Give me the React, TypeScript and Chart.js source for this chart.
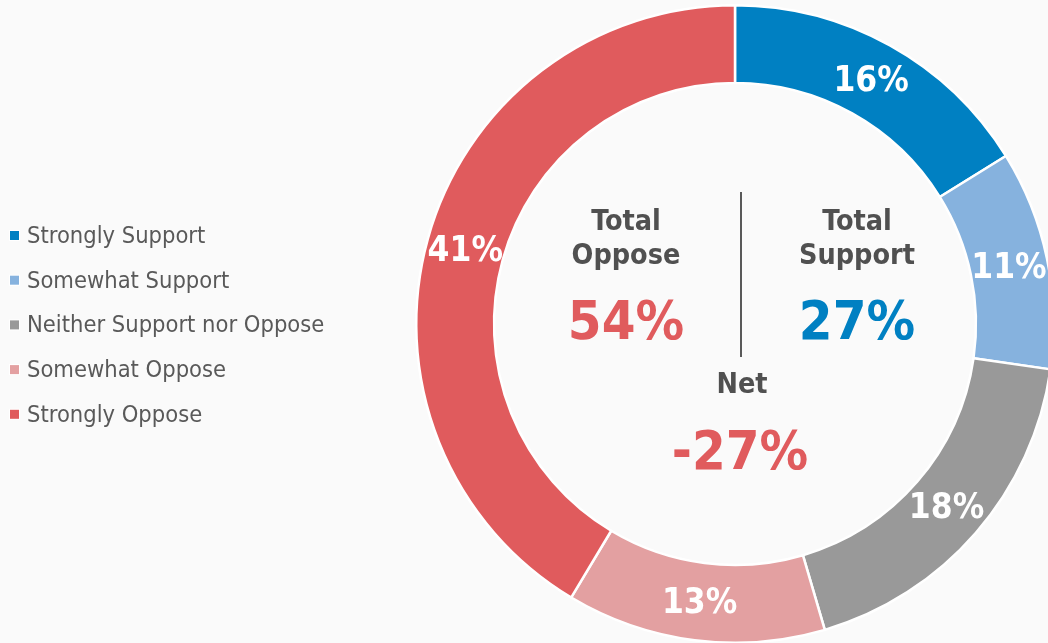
import React, { useEffect, useRef } from "react";
import { Chart, registerables } from "chart.js";

Chart.register(...registerables);

const categories = [
  "Strongly Support",
  "Somewhat Support",
  "Neither Support nor Oppose",
  "Somewhat Oppose",
  "Strongly Oppose",
];
const values = [16, 11, 18, 13, 41];
const colors = ["#0080c2", "#86b2de", "#999999", "#e3a0a1", "#e05b5d"];
const supportIdx = [0, 1];
const opposeIdx = [3, 4];

const FONT = '"DejaVu Sans Condensed", "DejaVu Sans", sans-serif';
const BG = "#fafafa";

export default function App() {
  const ref = useRef<HTMLCanvasElement | null>(null);

  useEffect(() => {
    document.body.style.background = BG;
    const canvas = ref.current!;
    const totalSupport = supportIdx.reduce((s, i) => s + values[i], 0);
    const totalOppose = opposeIdx.reduce((s, i) => s + values[i], 0);
    const net = totalSupport - totalOppose;

    const labelsPlugin = {
      id: "arcLabels",
      afterDatasetsDraw(chart: any) {
        const ctx = chart.ctx;
        const meta = chart.getDatasetMeta(0);
        ctx.save();
        ctx.fillStyle = "#ffffff";
        ctx.font = `bold 35px ${FONT}`;
        ctx.textAlign = "center";
        ctx.textBaseline = "middle";
        meta.data.forEach((arc: any, i: number) => {
          const p = arc.getProps(["x", "y", "startAngle", "endAngle", "innerRadius", "outerRadius"], true);
          const a = (p.startAngle + p.endAngle) / 2;
          const r = (p.innerRadius + p.outerRadius) / 2;
          ctx.fillText(values[i] + "%", p.x + Math.cos(a) * r, p.y + Math.sin(a) * r + 2);
        });
        ctx.restore();
      },
    };

    const centerPlugin = {
      id: "centerText",
      afterDraw(chart: any) {
        const ctx = chart.ctx;
        const meta = chart.getDatasetMeta(0);
        const { x: cx, y: cy } = meta.data[0].getProps(["x", "y"], true);
        ctx.save();
        ctx.textAlign = "center";
        ctx.textBaseline = "alphabetic";
        ctx.fillStyle = "#505050";
        ctx.font = `bold 28.5px ${FONT}`;
        ctx.fillText("Total", cx - 109, cy - 94);
        ctx.fillText("Oppose", cx - 109, cy - 60);
        ctx.fillText("Total", cx + 122, cy - 94);
        ctx.fillText("Support", cx + 122, cy - 60);
        ctx.fillText("Net", cx + 7, cy + 69);
        ctx.font = `bold 54px ${FONT}`;
        ctx.fillStyle = colors[4];
        ctx.fillText(totalOppose + "%", cx - 109, cy + 15);
        ctx.fillText(net + "%", cx + 5, cy + 145);
        ctx.fillStyle = colors[0];
        ctx.fillText(totalSupport + "%", cx + 122, cy + 15);
        ctx.strokeStyle = "#595959";
        ctx.lineWidth = 2;
        ctx.beginPath();
        ctx.moveTo(cx + 6, cy - 132);
        ctx.lineTo(cx + 6, cy + 33);
        ctx.stroke();
        ctx.restore();
      },
    };

    const legendPlugin = {
      id: "customLegend",
      afterDraw(chart: any) {
        const ctx = chart.ctx;
        ctx.save();
        ctx.font = `23.5px ${FONT}`;
        ctx.textAlign = "left";
        ctx.textBaseline = "alphabetic";
        categories.forEach((c, i) => {
          const base = 243 + i * 44.7;
          ctx.fillStyle = "#ffffff";
          ctx.fillRect(9, base - 13, 11, 11);
          ctx.fillStyle = colors[i];
          ctx.fillRect(10, base - 12, 9, 9);
          ctx.fillStyle = "#595959";
          ctx.fillText(c, 27, base);
        });
        ctx.restore();
      },
    };

    const chart = new Chart(canvas, {
      type: "doughnut",
      data: {
        labels: categories,
        datasets: [
          {
            data: values,
            backgroundColor: colors,
            borderColor: "#ffffff",
            borderWidth: 2.5,
            hoverOffset: 0,
          },
        ],
      },
      options: {
        responsive: false,
        animation: false,
        cutout: "75.6%",
        layout: { padding: { left: 415, top: 4, right: 25, bottom: 16 } },
        plugins: {
          legend: { display: false },
          tooltip: { enabled: false },
        },
      },
      plugins: [labelsPlugin, centerPlugin, legendPlugin],
    });
    return () => chart.destroy();
  }, []);

  return (
    <div
      style={{
        position: "absolute",
        left: 0,
        top: 0,
        width: 1048,
        height: 643,
        overflow: "hidden",
        background: BG,
      }}
    >
      <canvas ref={ref} width={1080} height={660} style={{ display: "block" }} />
    </div>
  );
}
